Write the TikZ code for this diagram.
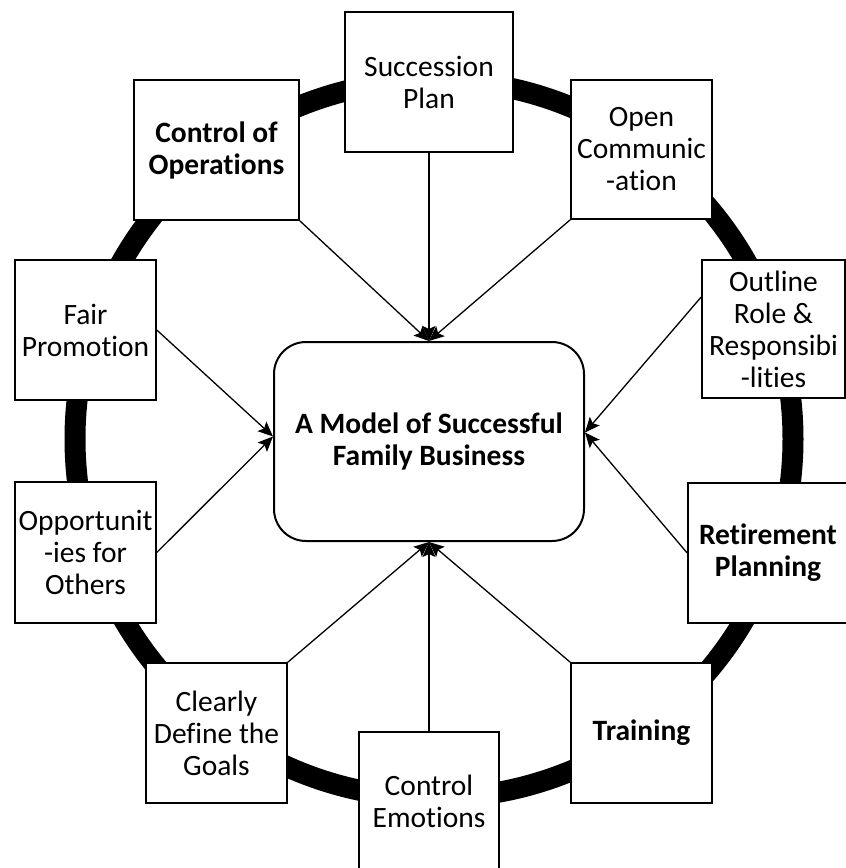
\documentclass[tikz,border=0pt]{standalone}
\usepackage{fontspec}
\setmainfont{Carlito}[Ligatures=NoCommon]
\usetikzlibrary{arrows.meta}
\tikzset{
  box/.style={draw=black, line width=1.6pt, fill=white, inner sep=0pt, align=center,
    font=\fontsize{29.5}{32}\selectfont},
  bbox/.style={box, font=\fontsize{29.5}{32}\selectfont\bfseries},
  link/.style={line width=1.3pt, -{Stealth[length=15pt,width=13pt,inset=3pt]}},
  ring/.style={line width=21pt, black}
}
\begin{document}
\begin{tikzpicture}[x=1pt,y=-1pt]
\useasboundingbox (0,0) rectangle (846,868);
\clip (0,0) rectangle (846,868);
\fill[white] (0,0) rectangle (846,868);
\draw[ring] (434,439) circle[radius=359pt];
\node[box, minimum width=168pt, minimum height=140pt] (SP) at (429,82) {Succession\\Plan};
\node[bbox, minimum width=165pt, minimum height=140pt] (CO) at (216.5,150) {Control of\\Operations};
\node[box, minimum width=141pt, minimum height=139pt] (OC) at (641.5,149.5) {Open\\Communic\\-ation};
\node[box, minimum width=141pt, minimum height=140pt] (FP) at (85.5,330) {Fair\\Promotion};
\node[box, minimum width=143pt, minimum height=138pt] (OR) at (773.5,329) {Outline\\Role \&\\Responsibi\\-lities};
\node[box, minimum width=141pt, minimum height=141pt] (OP) at (85.5,552.5) {Opportunit\\-ies for\\Others};
\node[bbox, minimum width=160pt, minimum height=140pt] (RP) at (768,553) {Retirement\\Planning};
\node[box, minimum width=141pt, minimum height=140pt] (CD) at (216.5,733) {Clearly\\Define the\\Goals};
\node[bbox, minimum width=141pt, minimum height=140pt] (TR) at (641.5,733) {Training};
\node[box, minimum width=140pt, minimum height=138pt] (CE) at (429,801) {Control\\Emotions};
\node[bbox, draw, line width=2pt, rounded corners=32pt, minimum width=310pt, minimum height=199pt] (M) at (429,441.5) {A Model of Successful\\Family Business};
\coordinate (Mt) at (M.north);
\coordinate (Mb) at (M.south);
\coordinate (Ml) at ([yshift=5pt]M.west);
\coordinate (Mr) at ([yshift=9pt]M.east);
\draw[link] (SP.south) -- (Mt);
\draw[link] (CO.south east) -- (Mt);
\draw[link] (OC.south west) -- (Mt);
\draw[link] (FP.east) -- (Ml);
\draw[link] (OP.east) -- (Ml);
\draw[link] ([yshift=32pt]OR.west) -- (Mr);
\draw[link] (RP.west) -- (Mr);
\draw[link] (CD.north east) -- (Mb);
\draw[link] (TR.north west) -- (Mb);
\draw[link] (CE.north) -- (Mb);
\end{tikzpicture}
\end{document}
